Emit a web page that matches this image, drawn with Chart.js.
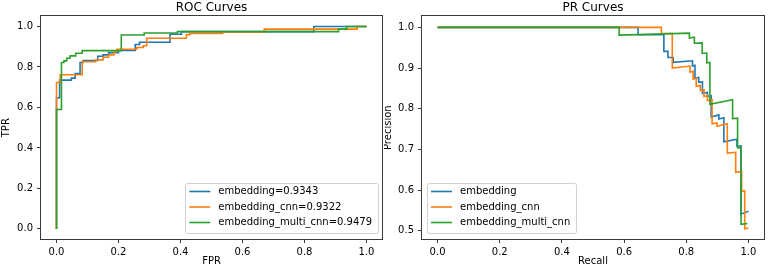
<!DOCTYPE html>
<html>
<head>
<meta charset="utf-8">
<script src="https://cdn.jsdelivr.net/npm/chart.js@4.4.1/dist/chart.umd.min.js"></script>
<style>
  body { margin: 0; background: #fff; }
  #wrap { position: relative; width: 768px; height: 271px; }
  .panel { position: absolute; top: 0; width: 384px; height: 271px; }
</style>
</head>
<body>
<div id="wrap">
  <div class="panel" style="left:0"><canvas id="roc" width="384" height="271"></canvas></div>
  <div class="panel" style="left:384px"><canvas id="pr" width="384" height="271"></canvas></div>
</div>
<script>
// ---- data ----
const seriesColors = ['#1f77b4', '#ff7f0e', '#2ca02c'];

const rocLabels = ['embedding=0.9343', 'embedding_cnn=0.9322', 'embedding_multi_cnn=0.9479'];
const prLabels = ['embedding', 'embedding_cnn', 'embedding_multi_cnn'];

const unitTicks = [0, 0.2, 0.4, 0.6, 0.8, 1.0];
const precisionTicks = [0.5, 0.6, 0.7, 0.8, 0.9, 1.0];

// ROC: embedding
const fprEmb = [0, 0, 0.010, 0.010, 0.048, 0.048, 0.060, 0.060, 0.076, 0.076, 0.086, 0.086, 0.133, 0.133, 0.150, 0.150, 0.168, 0.168, 0.200, 0.200, 0.254, 0.254, 0.268, 0.268, 0.366, 0.366, 0.403, 0.403, 0.830, 0.830, 1.0];
const tprEmb = [0, 0.648, 0.648, 0.735, 0.735, 0.745, 0.745, 0.768, 0.768, 0.822, 0.822, 0.832, 0.832, 0.853, 0.853, 0.860, 0.860, 0.871, 0.871, 0.882, 0.882, 0.911, 0.911, 0.922, 0.922, 0.962, 0.962, 0.975, 0.975, 1.0, 1.0];
// ROC: embedding_cnn
const fprCnn = [0, 0, 0.012, 0.012, 0.083, 0.083, 0.126, 0.126, 0.150, 0.150, 0.168, 0.168, 0.185, 0.185, 0.195, 0.195, 0.259, 0.259, 0.280, 0.280, 0.291, 0.291, 0.419, 0.419, 0.430, 0.430, 0.536, 0.536, 0.670, 0.670, 0.970, 0.970, 1.0];
const tprCnn = [0, 0.723, 0.723, 0.762, 0.762, 0.826, 0.826, 0.835, 0.835, 0.848, 0.848, 0.860, 0.860, 0.875, 0.875, 0.888, 0.888, 0.896, 0.896, 0.905, 0.905, 0.942, 0.942, 0.960, 0.960, 0.966, 0.966, 0.972, 0.972, 0.987, 0.987, 1.0, 1.0];
// ROC: embedding_multi_cnn
const fprMulti = [0, 0, 0.016, 0.016, 0.024, 0.024, 0.033, 0.033, 0.044, 0.044, 0.062, 0.062, 0.083, 0.083, 0.209, 0.209, 0.283, 0.283, 0.390, 0.390, 0.910, 0.910, 0.936, 0.936, 1.0];
const tprMulti = [0, 0.590, 0.590, 0.822, 0.822, 0.830, 0.830, 0.843, 0.843, 0.855, 0.855, 0.868, 0.868, 0.881, 0.881, 0.958, 0.958, 0.968, 0.968, 0.975, 0.975, 0.987, 0.987, 1.0, 1.0];

// PR: embedding
const recEmb = [0, 0.645, 0.645, 0.728, 0.728, 0.741, 0.741, 0.758, 0.758, 0.820, 0.820, 0.828, 0.828, 0.840, 0.840, 0.852, 0.852, 0.868, 0.868, 0.880, 0.880, 0.905, 0.905, 0.921, 0.921, 0.963, 0.963, 0.976, 0.976, 1.0];
const precEmb = [1.0, 1.0, 0.982, 0.982, 0.941, 0.941, 0.926, 0.926, 0.914, 0.918, 0.905, 0.907, 0.875, 0.877, 0.865, 0.866, 0.838, 0.840, 0.830, 0.832, 0.780, 0.785, 0.775, 0.778, 0.719, 0.725, 0.708, 0.709, 0.541, 0.548];
// PR: embedding_cnn
const recCnn = [0, 0.720, 0.720, 0.755, 0.755, 0.812, 0.812, 0.822, 0.822, 0.832, 0.832, 0.845, 0.845, 0.857, 0.857, 0.868, 0.868, 0.883, 0.883, 0.899, 0.899, 0.932, 0.932, 0.959, 0.959, 0.978, 0.978, 0.988, 0.988, 1.0];
const precCnn = [1.0, 1.0, 0.985, 0.985, 0.900, 0.905, 0.890, 0.892, 0.873, 0.875, 0.855, 0.857, 0.845, 0.847, 0.830, 0.832, 0.820, 0.822, 0.763, 0.765, 0.757, 0.763, 0.691, 0.693, 0.644, 0.646, 0.597, 0.598, 0.505, 0.507];
// PR: embedding_multi_cnn
const recMulti = [0, 0.584, 0.584, 0.810, 0.810, 0.826, 0.826, 0.851, 0.851, 0.866, 0.866, 0.876, 0.876, 0.949, 0.949, 0.965, 0.965, 0.976, 0.976, 0.997];
const precMulti = [1.0, 1.0, 0.981, 0.986, 0.974, 0.976, 0.961, 0.962, 0.936, 0.937, 0.913, 0.914, 0.811, 0.822, 0.776, 0.777, 0.704, 0.705, 0.516, 0.518];

// ---- helpers ----
Chart.defaults.font.family = "'DejaVu Sans', sans-serif";
Chart.defaults.color = '#000';

const zip = (xs, ys) => xs.map((x, i) => ({ x, y: ys[i] }));
const AXIS_COLOR = '#3a3a3a';

// matplotlib-like frame + legend box drawn inside the axes
const frameAndLegend = {
    id: 'frameAndLegend',
    afterDatasetsDraw(chart) {
        const { ctx, chartArea: a } = chart;
        ctx.save();
        ctx.strokeStyle = AXIS_COLOR;
        ctx.lineWidth = 1;
        ctx.strokeRect(Math.round(a.left) - 0.5, Math.round(a.top) - 0.5,
            Math.round(a.right - a.left) + 1, Math.round(a.bottom - a.top) + 1);
        ctx.restore();
    },
    afterDraw(chart, args, opts) {
        const { ctx, chartArea: a } = chart;
        const labels = opts.labels;
        ctx.save();
        ctx.font = '10px "DejaVu Sans"';
        const textW = Math.max(...labels.map(t => ctx.measureText(t).width));
        const pad = 5, handle = 21, gap = 8, rowH = 15.5;
        const w = pad + handle + gap + textW + pad;
        const h = 50;
        const x0 = opts.corner === 'right' ? a.right - 4 - w : a.left + 5;
        const y0 = a.bottom - 6 - h;

        ctx.fillStyle = 'rgba(255,255,255,0.8)';
        ctx.strokeStyle = '#d0d0d0';
        ctx.lineWidth = 1;
        ctx.beginPath();
        ctx.roundRect(Math.round(x0) + 0.5, Math.round(y0) + 0.5, Math.round(w), h, 2);
        ctx.fill();
        ctx.stroke();

        ctx.textBaseline = 'middle';
        ctx.textAlign = 'left';
        labels.forEach((t, i) => {
            const cy = y0 + 8.5 + i * rowH;
            ctx.strokeStyle = seriesColors[i];
            ctx.lineWidth = 1.6;
            ctx.beginPath();
            ctx.moveTo(x0 + 4, cy);
            ctx.lineTo(x0 + 4 + handle, cy);
            ctx.stroke();
            ctx.fillStyle = '#000';
            ctx.fillText(t, x0 + pad + handle + gap - 1, cy);
        });
        ctx.restore();
    }
};

function axis(min, max, tickValues, title, fitSize, horizontal, titlePad) {
    return {
        type: 'linear',
        min,
        max,
        afterBuildTicks: s => { s.ticks = tickValues.map(v => ({ value: v })); },
        afterFit: s => {
            if (horizontal) s.height = fitSize;
            else s.width = fitSize;
        },
        grid: {
            drawOnChartArea: false,
            drawTicks: true,
            tickLength: 4,
            tickWidth: 1,
            color: AXIS_COLOR
        },
        border: { display: false },
        ticks: {
            color: '#000',
            font: { size: 10 },
            padding: horizontal ? 3 : 4,
            maxRotation: 0,
            autoSkip: false,
            callback: v => Number(v).toFixed(1)
        },
        title: {
            display: true,
            text: title,
            color: '#000',
            font: { size: 10 },
            padding: titlePad
        }
    };
}

function makeCurveChart(id, cfg) {
    const datasets = cfg.series.map((pts, i) => ({
        label: cfg.labels[i],
        data: pts,
        borderColor: seriesColors[i],
        backgroundColor: seriesColors[i],
        borderWidth: 1.6,
        pointRadius: 0,
        tension: 0,
        fill: false,
        order: cfg.series.length - i
    }));

    return new Chart(document.getElementById(id), {
        type: 'line',
        data: { datasets },
        options: {
            responsive: false,
            animation: false,
            events: [],
            layout: { padding: { left: 0, right: cfg.rightPad, top: 0, bottom: 0 } },
            scales: {
                x: axis(-0.05, 1.05, unitTicks, cfg.xTitle, 32, true, { top: 0, bottom: 4 }),
                y: axis(cfg.yMin, cfg.yMax, cfg.yTicks, cfg.yTitle, cfg.yWidth, false, { top: cfg.yTitleOffset, bottom: 0 })
            },
            plugins: {
                legend: { display: false },
                tooltip: { enabled: false },
                title: {
                    display: true,
                    text: cfg.title,
                    fullSize: false,
                    color: '#000',
                    font: { size: 12, weight: 'normal' },
                    padding: { top: 1, bottom: 1 }
                },
                frameAndLegend: { labels: cfg.labels, corner: cfg.legendCorner }
            }
        },
        plugins: [frameAndLegend]
    });
}

makeCurveChart('roc', {
    title: 'ROC Curves',
    xTitle: 'FPR',
    yTitle: 'TPR',
    labels: rocLabels,
    series: [zip(fprEmb, tprEmb), zip(fprCnn, tprCnn), zip(fprMulti, tprMulti)],
    yMin: -0.05,
    yMax: 1.05,
    yTicks: unitTicks,
    yWidth: 41,
    yTitleOffset: 0,
    rightPad: 2,
    legendCorner: 'right'
});

makeCurveChart('pr', {
    title: 'PR Curves',
    xTitle: 'Recall',
    yTitle: 'Precision',
    labels: prLabels,
    series: [zip(recEmb, precEmb), zip(recCnn, precCnn), zip(recMulti, precMulti)],
    yMin: 0.48,
    yMax: 1.027,
    yTicks: precisionTicks,
    yWidth: 38,
    yTitleOffset: -2,
    rightPad: 4,
    legendCorner: 'left'
});
</script>
</body>
</html>
